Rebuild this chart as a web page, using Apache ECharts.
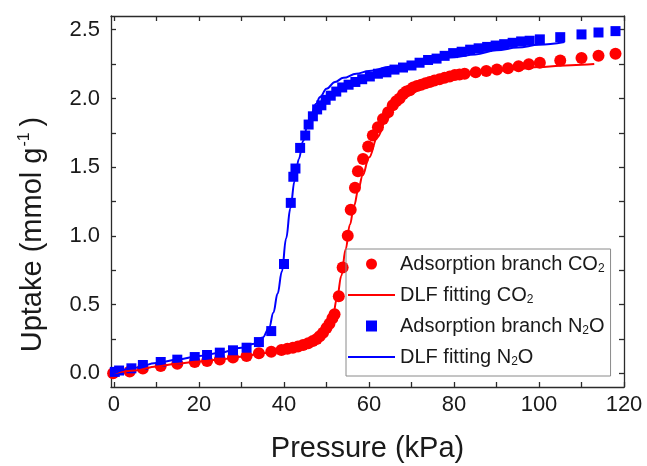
<!DOCTYPE html>
<html>
<head>
<meta charset="utf-8">
<script src="https://cdn.jsdelivr.net/npm/echarts@6/dist/echarts.min.js"></script>
<style>
  html, body { margin: 0; background: #fff; }
  #chart { width: 647px; height: 466px; }
</style>
</head>
<body>
<div id="chart"></div>
<script>
// measured points, [pressure kPa, uptake mmol/g]
const co2Points = [
  [-0.2, 0.0], [3.7, 0.012], [6.8, 0.034], [11.0, 0.053], [14.9, 0.07], [19.0, 0.082],
  [21.9, 0.089], [24.9, 0.10], [28.0, 0.114], [31.2, 0.126], [34.1, 0.145], [37.0, 0.157],
  [39.4, 0.17], [40.8, 0.178], [42.1, 0.186], [43.3, 0.195], [44.5, 0.205], [45.7, 0.218],
  [46.8, 0.234], [47.7, 0.25], [48.4, 0.27], [49.2, 0.295], [50.0, 0.33], [50.7, 0.36],
  [51.4, 0.40], [51.9, 0.43], [52.9, 0.56], [53.8, 0.77], [55.0, 1.0], [55.7, 1.19],
  [56.7, 1.35], [57.4, 1.47], [58.6, 1.56], [59.8, 1.65], [60.9, 1.73], [62.1, 1.79],
  [63.3, 1.85], [64.5, 1.90], [65.6, 1.95], [66.4, 1.98], [67.2, 2.0], [68.0, 2.03],
  [68.8, 2.05], [69.6, 2.06], [70.4, 2.08], [71.3, 2.09], [72.3, 2.10], [73.3, 2.11],
  [74.3, 2.12], [75.4, 2.13], [76.6, 2.14], [77.8, 2.15], [79.0, 2.16], [80.2, 2.17],
  [81.3, 2.175], [82.5, 2.18], [85.1, 2.19], [87.6, 2.2], [90.1, 2.21], [92.7, 2.22],
  [95.2, 2.235], [97.6, 2.248], [100.2, 2.26], [105.0, 2.277], [110.0, 2.294],
  [114.0, 2.31], [118.0, 2.326]
]
const co2Fit = [
  [0, 0], [5, 0.02], [10, 0.05], [15, 0.07], [20, 0.085], [25, 0.1], [30, 0.12], [35, 0.145],
  [40, 0.17], [44, 0.2], [47, 0.24], [49, 0.29], [50.5, 0.35], [51.5, 0.42], [52.5, 0.55],
  [53.5, 0.71], [54.5, 0.9], [55.5, 1.08], [56.5, 1.22], [57.5, 1.34], [58.5, 1.44],
  [60, 1.57], [62, 1.72], [64, 1.84], [66, 1.93], [68, 2.0], [70, 2.05], [72, 2.08],
  [75, 2.11], [80, 2.15], [85, 2.18], [90, 2.2], [95, 2.215], [100, 2.228], [105, 2.238],
  [110, 2.245], [113, 2.25]
]
const n2oPoints = [
  [0.2, 0.01], [1.2, 0.02], [4.1, 0.036], [6.8, 0.06], [11.0, 0.082], [14.9, 0.099],
  [19.0, 0.118], [21.9, 0.133], [24.9, 0.15], [28.0, 0.167], [31.2, 0.186], [34.1, 0.227],
  [37.0, 0.307], [40.0, 0.795], [41.6, 1.24], [42.2, 1.43], [42.7, 1.49], [43.8, 1.64],
  [45.0, 1.73], [45.8, 1.81], [46.8, 1.87], [47.8, 1.92], [48.8, 1.95], [49.8, 1.99],
  [51.0, 2.02], [52.3, 2.05], [53.7, 2.08], [55.2, 2.10], [56.8, 2.12], [58.4, 2.14],
  [60.2, 2.16], [62.1, 2.18], [64.1, 2.19], [66.0, 2.21], [68.0, 2.225], [70.0, 2.24],
  [71.9, 2.26], [73.9, 2.28], [75.9, 2.29], [77.8, 2.31], [79.8, 2.33], [81.8, 2.34],
  [83.8, 2.355], [85.8, 2.365], [87.8, 2.375], [89.8, 2.385], [91.8, 2.395], [93.8, 2.405],
  [95.8, 2.415], [97.8, 2.42], [100.2, 2.43], [105.0, 2.446], [110.0, 2.466],
  [114.0, 2.48], [118.0, 2.49]
]
const n2oFit = [
  [0, 0], [5, 0.04], [10, 0.075], [15, 0.1], [20, 0.125], [25, 0.15], [30, 0.185],
  [33, 0.215], [35, 0.26], [36.5, 0.33], [37.5, 0.44], [38.5, 0.58], [39.5, 0.74],
  [40.5, 0.98], [41.5, 1.2], [42.5, 1.4], [43.5, 1.56], [44.5, 1.69], [45.5, 1.8],
  [46.5, 1.89], [47.5, 1.96], [48.5, 2.01], [50, 2.07], [52, 2.12], [54, 2.15], [57, 2.18],
  [60, 2.2], [65, 2.23], [70, 2.25], [75, 2.28], [80, 2.3], [85, 2.32], [90, 2.35],
  [95, 2.37], [100, 2.39], [106, 2.41]
]

const xLabels = [0, 20, 40, 60, 80, 100, 120]
const xTicks = [0, 10, 20, 30, 40, 50, 60, 70, 80, 90, 100, 110, 120]
const yLabels = [0, 0.5, 1, 1.5, 2, 2.5]
const yTicks = [0, 0.25, 0.5, 0.75, 1, 1.25, 1.5, 1.75, 2, 2.25, 2.5]

const seriesNames = ['Adsorption branch CO2', 'DLF fitting CO2', 'Adsorption branch N2O', 'DLF fitting N2O']
const legendRich = {
  'Adsorption branch CO2': '{a|Adsorption branch CO}{s|2}',
  'DLF fitting CO2': '{a|DLF fitting CO}{s|2}',
  'Adsorption branch N2O': '{a|Adsorption branch N}{s|2}{a|O}',
  'DLF fitting N2O': '{a|DLF fitting N}{s|2}{a|O}'
}

const FONT = '"Liberation Sans", Arial, sans-serif'
const RED = '#ff0000'
const BLUE = '#0000ff'
const INK = '#1a1a1a'
const frame = { color: '#2b2b2b', width: 1.3 }
// legend icons: thin bar for fits, small square for N2O points
const lineIcon = 'path://M0,0H47V2H0Z'
const squareIcon = 'path://M0,0H10V10H0Z'

const chart = echarts.init(document.getElementById('chart'))

function xAx(pos) {
  const bottom = pos === 'bottom'
  return {
    type: 'value', position: pos, min: -0.7, max: 120,
    axisLine: { show: true, onZero: false, lineStyle: frame },
    axisTick: { show: true, inside: true, length: 5, customValues: xTicks, lineStyle: frame },
    axisLabel: {
      show: bottom, customValues: xLabels, margin: 7,
      fontSize: 22, color: INK, fontFamily: FONT
    },
    splitLine: { show: false },
    name: bottom ? 'Pressure (kPa)' : '',
    nameLocation: 'middle', nameGap: 47,
    nameTextStyle: { fontSize: 29, color: INK, fontFamily: FONT }
  }
}

function yAx(pos) {
  const left = pos === 'left'
  return {
    type: 'value', position: pos, min: -0.1, max: 2.6,
    axisLine: { show: true, onZero: false, lineStyle: frame },
    axisTick: { show: true, inside: true, length: 5, customValues: yTicks, lineStyle: frame },
    axisLabel: {
      show: left, customValues: yLabels, margin: 11,
      fontSize: 22, color: INK, fontFamily: FONT,
      formatter: v => v.toFixed(1)
    },
    splitLine: { show: false },
    name: left ? '{a|Uptake (mmol g}{s|-1}{e|)}' : '',
    nameLocation: 'middle', nameGap: 62,
    nameTextStyle: {
      color: INK, fontFamily: FONT,
      rich: {
        a: { fontSize: 29, lineHeight: 32, fontFamily: FONT, color: INK },
        e: { fontSize: 29, lineHeight: 32, fontFamily: FONT, color: INK, padding: [0, 66, 0, 0] },
        s: { fontSize: 16, lineHeight: 17, fontFamily: FONT, color: INK,
             verticalAlign: 'top', padding: [0, 6, 15, 1] }
      }
    }
  }
}

const option = {
  animation: false,
  backgroundColor: '#fff',
  grid: { left: 111, right: 23, top: 16, bottom: 79, outerBoundsMode: 'none' },
  xAxis: [xAx('bottom'), xAx('top')],
  yAxis: [yAx('left'), yAx('right')],
  legend: {
    orient: 'vertical', left: 346, top: 249,
    padding: [0, 6, 8, 2], itemGap: 5,
    itemWidth: 47, itemHeight: 11,
    borderColor: '#8a8a8a', borderWidth: 1,
    data: [
      { name: seriesNames[0], icon: 'circle' },
      { name: seriesNames[1], icon: lineIcon },
      { name: seriesNames[2], icon: squareIcon },
      { name: seriesNames[3], icon: lineIcon }
    ],
    formatter: name => legendRich[name],
    textStyle: {
      fontFamily: FONT, color: INK,
      rich: {
        a: { fontSize: 20, lineHeight: 22, fontFamily: FONT, color: INK },
        s: { fontSize: 12, lineHeight: 10, fontFamily: FONT, color: INK,
             verticalAlign: 'bottom', padding: [14, 0, 0, 0] }
      }
    }
  },
  series: [
    {
      name: seriesNames[0], type: 'scatter', data: co2Points,
      symbol: 'circle', symbolSize: 12, itemStyle: { color: RED, opacity: 1 }
    },
    {
      name: seriesNames[1], type: 'line', data: co2Fit,
      symbol: 'none', showSymbol: false, smooth: 0.4, smoothMonotone: 'x',
      lineStyle: { color: RED, width: 2 }, itemStyle: { color: RED }
    },
    {
      name: seriesNames[2], type: 'scatter', data: n2oPoints,
      symbol: 'rect', symbolSize: 10, itemStyle: { color: BLUE, opacity: 1 }
    },
    {
      name: seriesNames[3], type: 'line', data: n2oFit,
      symbol: 'none', showSymbol: false, smooth: 0.4, smoothMonotone: 'x',
      lineStyle: { color: BLUE, width: 2 }, itemStyle: { color: BLUE }
    }
  ]
}

chart.setOption(option)
</script>
</body>
</html>
